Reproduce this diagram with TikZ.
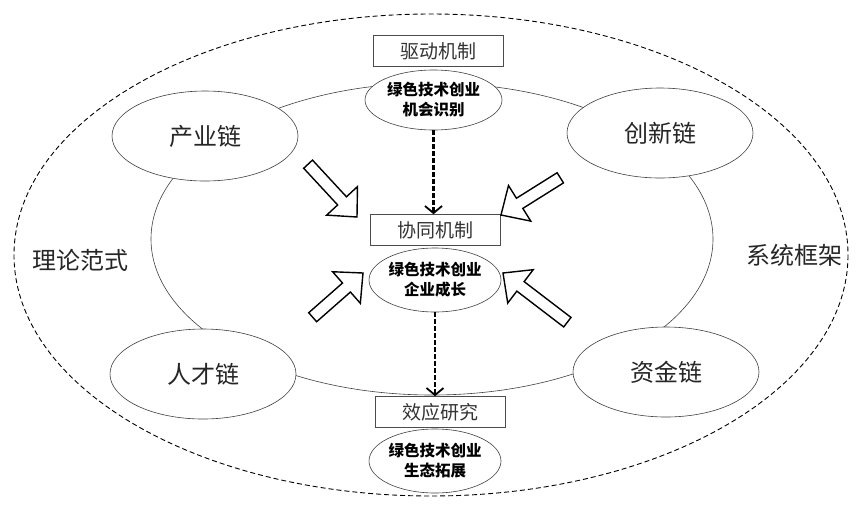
\documentclass[tikz,border=0pt]{standalone}
\usepackage{fontspec}
\setmainfont{Noto Sans CJK SC}
\usetikzlibrary{shapes.geometric,arrows.meta}

% hollow block arrow: tip x, tip y, angle, length
\newcommand{\fatarrow}[4]{%
  \draw[bigarrow,shift={(#1,#2)},rotate=#3] (0,0) -- (-22,-21) -- (-22,-6) -- (-#4,-6) -- (-#4,6) -- (-22,6) -- (-22,21) -- cycle;}

\begin{document}
\begin{tikzpicture}[x=1pt,y=1pt,yscale=-1,xscale=1,
    chain/.style={ellipse,draw=black!75,fill=white,line width=0.6pt,minimum width=186pt,minimum height=90pt,inner sep=0pt,font=\fontsize{24}{24}\selectfont,text=black!85},
    theme/.style={ellipse,draw=black!75,fill=white,line width=0.6pt,minimum width=132pt,minimum height=64pt,inner sep=0pt,align=center,font=\bfseries\fontsize{15.5}{20}\selectfont},
    mech/.style={rectangle,draw=black!70,fill=white,line width=0.6pt,minimum width=130pt,minimum height=31pt,inner sep=0pt,font=\fontsize{19}{19}\selectfont,text=black!80},
    flow/.style={line width=2.7pt,dash pattern=on 4.5pt off 2.5pt,-{Straight Barb[length=7pt,width=17pt,line width=1.8pt]}},
    bigarrow/.style={draw=black,line width=1.4pt,fill=white,line join=miter}]
    \useasboundingbox (0,0) rectangle (862,507);

    %Shape: Ellipse [outer frame]
    \draw [line width=0.9pt,dash pattern=on 5pt off 3pt] (431,255) ellipse [x radius=417, y radius=241];
    %Shape: Ellipse [inner ring]
    \draw [draw=black!75,line width=0.6pt] (432,239) ellipse [x radius=281, y radius=156];

    % Chain Nodes
    \node [chain] (chanye) at (205,136) {产业链};
    \node [chain] (chuangxin) at (660,133) {创新链};
    \node [chain] (rencai) at (203,374) {人才链};
    \node [chain] (zijin) at (666,372) {资金链};

    % Mechanism Nodes
    \node [mech] (qudong) at (438,51) {驱动机制};
    \node [theme,minimum width=137pt,minimum height=60pt] (jihui) at (433.5,100) {绿色技术创业\\机会识别};
    \node [mech] (xietong) at (435,230) {协同机制};
    \node [theme] (chengzhang) at (435,280) {绿色技术创业\\企业成长};
    \node [mech] (xiaoying) at (440.5,412) {效应研究};
    \node [theme] (shengtai) at (435,461) {绿色技术创业\\生态拓展};

    % Text Node
    \node [font=\fontsize{24}{24}\selectfont,text=black!85] (lilun) at (80,260) {理论范式};
    % Text Node
    \node [font=\fontsize{24}{24}\selectfont,text=black!85] (xitong) at (794,255) {系统框架};

    %Dashed Arrows
    \draw [flow] (jihui.south) -- (jihui.south |- xietong.north);
    \draw [flow] (chengzhang.south) -- (chengzhang.south |- xiaoying.north);

    %Block Arrows
    \fatarrow{357}{217}{47.2}{72}
    \fatarrow{501}{215}{147.9}{70}
    \fatarrow{363}{273}{-41.3}{67}
    \fatarrow{503}{273}{-142.6}{81}
\end{tikzpicture}
\end{document}
